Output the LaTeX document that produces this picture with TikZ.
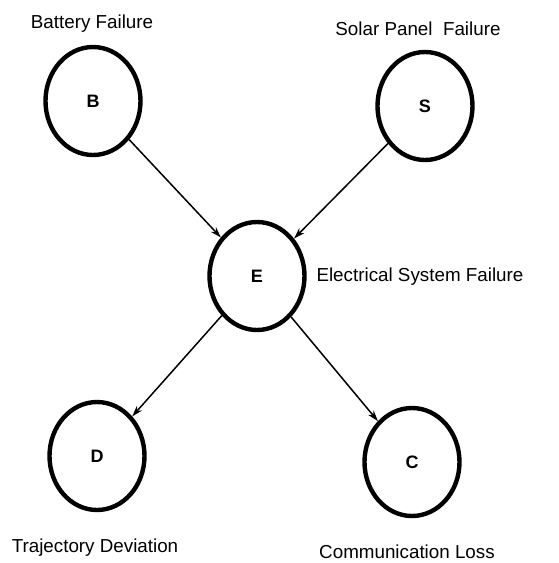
\documentclass[tikz,border=0pt]{standalone}
\usepackage{fontspec}
\setmainfont{Liberation Sans}
\usetikzlibrary{arrows.meta,shapes.geometric}

\begin{document}
\begin{tikzpicture}[x=1pt,y=-1pt,
    var/.style={ellipse,draw,line width=4.4pt,minimum width=95pt,minimum height=108pt,
      inner sep=0pt,font=\fontsize{18}{21}\selectfont\bfseries},
    lbl/.style={font=\fontsize{18.8}{22}\selectfont},
    edge/.style={-{Stealth[length=11pt,width=7pt]},line width=1.5pt}]
    \useasboundingbox (0,0) rectangle (559,563);
    % variables
    \node[var] (B) at (93,101) {B};
    \node[var] (S) at (425,106) {S};
    \node[var] (E) at (257,276) {E};
    \node[var] (D) at (97,456) {D};
    \node[var] (C) at (412,462) {C};
    % names
    \node[lbl] (Blbl) at (92,24) {Battery Failure};
    \node[lbl] (Slbl) at (418,29) {Solar Panel\ \ Failure};
    \node[lbl,anchor=west] (Elbl) at (313,277) {Electrical System Failure};
    \node[lbl] (Dlbl) at (95,548) {Trajectory Deviation};
    \node[lbl] (Clbl) at (407,552) {Communication Loss};
    % dependencies
    \foreach \a/\b in {B/E,S/E,E/D,E/C}
      \draw[edge] (\a) -- (\b);
\end{tikzpicture}
\end{document}
